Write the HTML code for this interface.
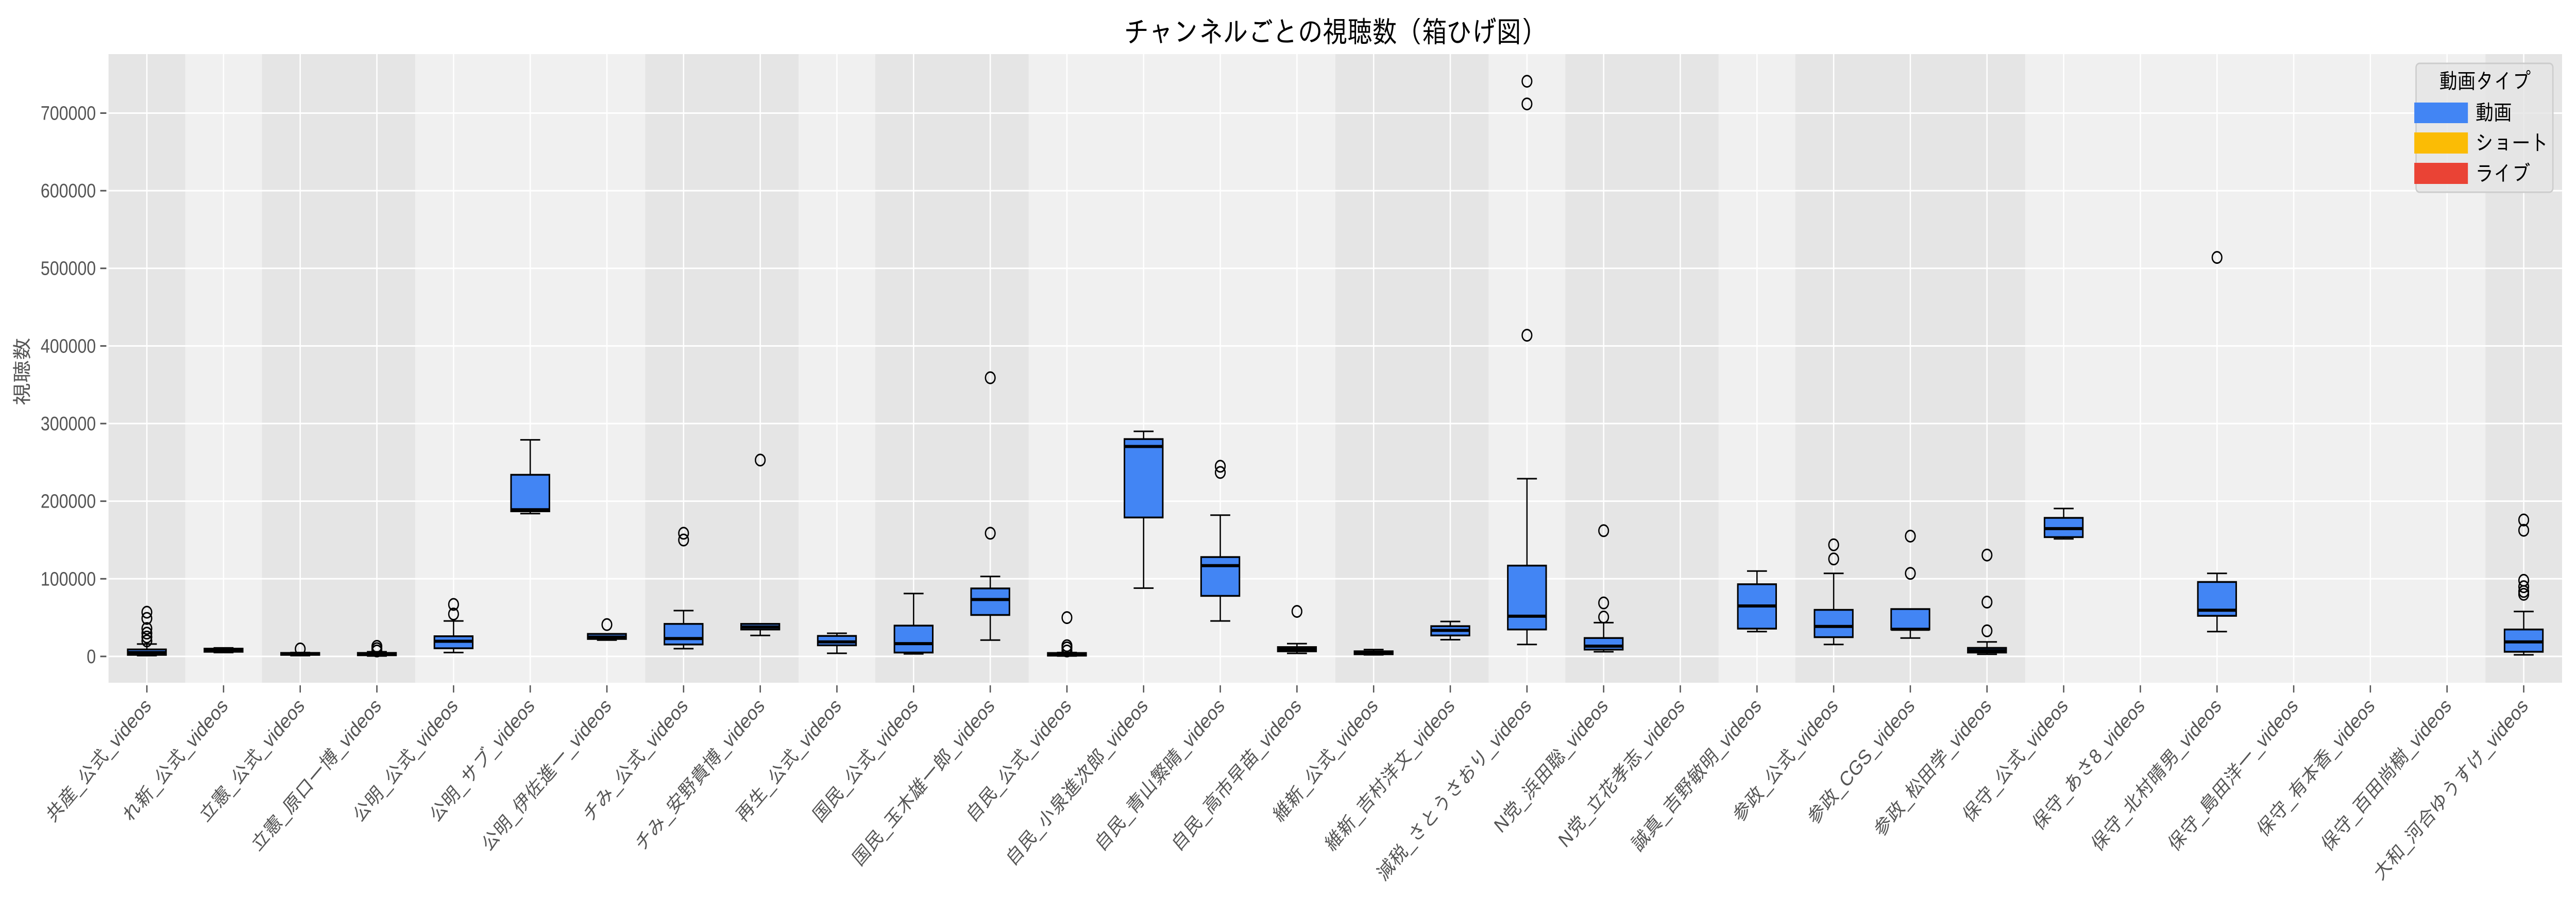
<!DOCTYPE html>
<html><head><meta charset="utf-8">
<style>
html,body{margin:0;padding:0;background:#fff;overflow:hidden;width:100%;height:100%;}
svg{display:block;position:fixed;left:0;top:0;width:100vw;height:100vh;}
text{font-family:"Liberation Sans","IPAGothic","Noto Sans CJK JP",sans-serif;}
</style></head>
<body>
<svg id="chart" viewBox="0 0 5910 1768" preserveAspectRatio="none" xmlns="http://www.w3.org/2000/svg">
<g id="bands"></g>
<g id="grid"></g>
<g id="boxes"></g>
<g id="axes"></g>
<text x="3063" y="82" font-size="57" text-anchor="middle" fill="#000">チャンネルごとの視聴数（箱ひげ図）</text>
<text x="0" y="0" font-size="44" text-anchor="middle" fill="#555" transform="translate(66,721) rotate(-90)">視聴数</text>
<g>
  <rect x="5543" y="123" width="314" height="250" rx="8" fill="#e5e5e5" fill-opacity="0.85" stroke="#cccccc" stroke-width="3"/>
  <text x="5701" y="172" font-size="42" text-anchor="middle" fill="#000">動画タイプ</text>
  <rect x="5539" y="199" width="123" height="40" fill="#4285F4"/>
  <text x="5679" y="233" font-size="42" fill="#000">動画</text>
  <rect x="5539" y="257" width="123" height="41" fill="#FBBC05"/>
  <text x="5679" y="292" font-size="42" fill="#000">ショート</text>
  <rect x="5539" y="316" width="123" height="41" fill="#EA4335"/>
  <text x="5679" y="351" font-size="42" fill="#000">ライブ</text>
</g>
</svg>
<script>
const categories = ["共産_公式_videos","れ新_公式_videos","立憲_公式_videos","立憲_原口一博_videos","公明_公式_videos","公明_サブ_videos","公明_伊佐進一_videos","チみ_公式_videos","チみ_安野貴博_videos","再生_公式_videos","国民_公式_videos","国民_玉木雄一郎_videos","自民_公式_videos","自民_小泉進次郎_videos","自民_青山繁晴_videos","自民_高市早苗_videos","維新_公式_videos","維新_吉村洋文_videos","減税_さとうさおり_videos","N党_浜田聡_videos","N党_立花孝志_videos","誠真_吉野敏明_videos","参政_公式_videos","参政_CGS_videos","参政_松田学_videos","保守_公式_videos","保守_あさ8_videos","保守_北村晴男_videos","保守_島田洋一_videos","保守_有本香_videos","保守_百田尚樹_videos","大和_河合ゆうすけ_videos"];
const groupSizes = [1,1,2,3,2,1,2,4,2,1,2,1,3,6,1];
const q1 =     [2000,6000,2000,1500,10500,187000,22500,15400,34700,14300,5000,53400,1000,179000,78000,6600,2800,27000,34700,8800,null,35800,24800,34700,5000,153700,null,52300,null,null,null,6000];
const median = [5000,8000,3500,3000,19500,189000,25000,23000,38000,18700,16500,73300,2500,270500,117000,9400,4400,33600,51800,13200,null,65000,38600,35000,7700,164700,null,59500,null,null,null,18700];
const q3 =     [9000,10000,4500,4500,26000,234000,29000,41900,41900,26400,39700,87600,4400,280000,128000,12000,6600,39000,117000,23700,null,93000,60000,61000,11000,178500,null,95900,null,null,null,34700];
const whiskLo =[1000,5000,1000,500,5000,184000,21000,10000,27000,4000,3300,21000,500,88000,45700,3900,2000,21500,15400,6000,null,32000,15400,23700,2800,151500,null,32000,null,null,null,2000];
const whiskHi =[16000,11000,5000,6000,45700,279000,29000,59000,42000,29800,81000,103000,5000,290000,182000,16500,8800,45000,229000,43500,null,110000,107000,61000,18700,190600,null,107000,null,null,null,57900];
const outliers = [[57000,49000,36000,30000,25000,20000],[],[9700],[13000,10000,7000],[54600,67000],[],[41000],[158700,150000],[253000],[],[],[158700,359000],[50000,13800,11000,7000],[],[245000,237000],[58000],[],[],[413800,711800,741000],[50700,68900,162000],[],[],[125600,143800],[107000,155000],[33000,70000,130600],[],[],[514000],[],[],[],[175800,162500,98000,89800,83700,80000]];
const yTicks = [0,100000,200000,300000,400000,500000,600000,700000];

const NS = "http://www.w3.org/2000/svg";
const L = 249, R = 5878, T = 105, B = 1325;
const yMin = -33900, yMax = 776000;
const step = (R - L) / categories.length;
function xs(i){ return L + step * (i + 0.5); }
function ys(v){ return B - (v - yMin) / (yMax - yMin) * (B - T); }
function mk(tag, attrs, parent){
  const e = document.createElementNS(NS, tag);
  for (const k in attrs) e.setAttribute(k, attrs[k]);
  parent.appendChild(e);
  return e;
}
const bands = document.getElementById('bands');
let start = 0;
groupSizes.forEach((n, g) => {
  const r = mk('rect', {x: L + start*step, y: T, width: n*step, height: B - T, fill: g % 2 === 0 ? '#e5e5e5' : '#f0f0f0'}, bands);
  
  
  start += n;
});
const grid = document.getElementById('grid');
yTicks.forEach(v => {
  const l = mk('line', {x1: L, x2: R, y1: ys(v), y2: ys(v), stroke: '#fff', 'stroke-width': 3}, grid);
  
  
});
categories.forEach((c, i) => {
  const l = mk('line', {x1: xs(i), x2: xs(i), y1: T, y2: B, stroke: '#fff', 'stroke-width': 3}, grid);
  
  
});
const axes = document.getElementById('axes');
yTicks.forEach(v => {
  const t = mk('line', {x1: 230, x2: 244, y1: ys(v), y2: ys(v), stroke: '#555', 'stroke-width': 3}, axes);
  
  
  const tx = mk('text', {x: 220, y: ys(v) + 13, 'font-size': 38, 'text-anchor': 'end', fill: '#555'}, axes);
  
  
  tx.textContent = String(v);
});
categories.forEach((c, i) => {
  const x = xs(i);
  const t = mk('line', {x1: x, x2: x, y1: 1330, y2: 1344, stroke: '#555', 'stroke-width': 3}, axes);
  
  
  const tx = mk('text', {x: 0, y: 0, 'font-size': 40, 'text-anchor': 'end', fill: '#555', transform: `translate(${x + 12},${1372}) rotate(-45)`}, axes);
  
  
  tx.textContent = c;
});
const boxes = document.getElementById('boxes');
const bw = step * 0.5, cw = step * 0.26;
categories.forEach((c, i) => {
  if (q1[i] === null) return;
  const x = xs(i);
  const g = mk('g', {}, boxes);
  
  
  mk('line', {x1: x, x2: x, y1: ys(whiskLo[i]), y2: ys(q1[i]), stroke: '#000', 'stroke-width': 3}, g);
  mk('line', {x1: x, x2: x, y1: ys(q3[i]), y2: ys(whiskHi[i]), stroke: '#000', 'stroke-width': 3}, g);
  mk('line', {x1: x - cw/2, x2: x + cw/2, y1: ys(whiskLo[i]), y2: ys(whiskLo[i]), stroke: '#000', 'stroke-width': 3}, g);
  mk('line', {x1: x - cw/2, x2: x + cw/2, y1: ys(whiskHi[i]), y2: ys(whiskHi[i]), stroke: '#000', 'stroke-width': 3}, g);
  const top = ys(q3[i]), bot = ys(q1[i]);
  mk('rect', {x: x - bw/2, y: top, width: bw, height: Math.max(bot - top, 1), fill: '#4285F4', stroke: '#000', 'stroke-width': 3.5}, g);
  mk('line', {x1: x - bw/2, x2: x + bw/2, y1: ys(median[i]), y2: ys(median[i]), stroke: '#000', 'stroke-width': 6}, g);
  outliers[i].forEach(v => {
    const o = mk('circle', {cx: x, cy: ys(v), r: 11, fill: 'none', stroke: '#000', 'stroke-width': 3}, g);
    
    
  });
});
</script>
</body></html>
